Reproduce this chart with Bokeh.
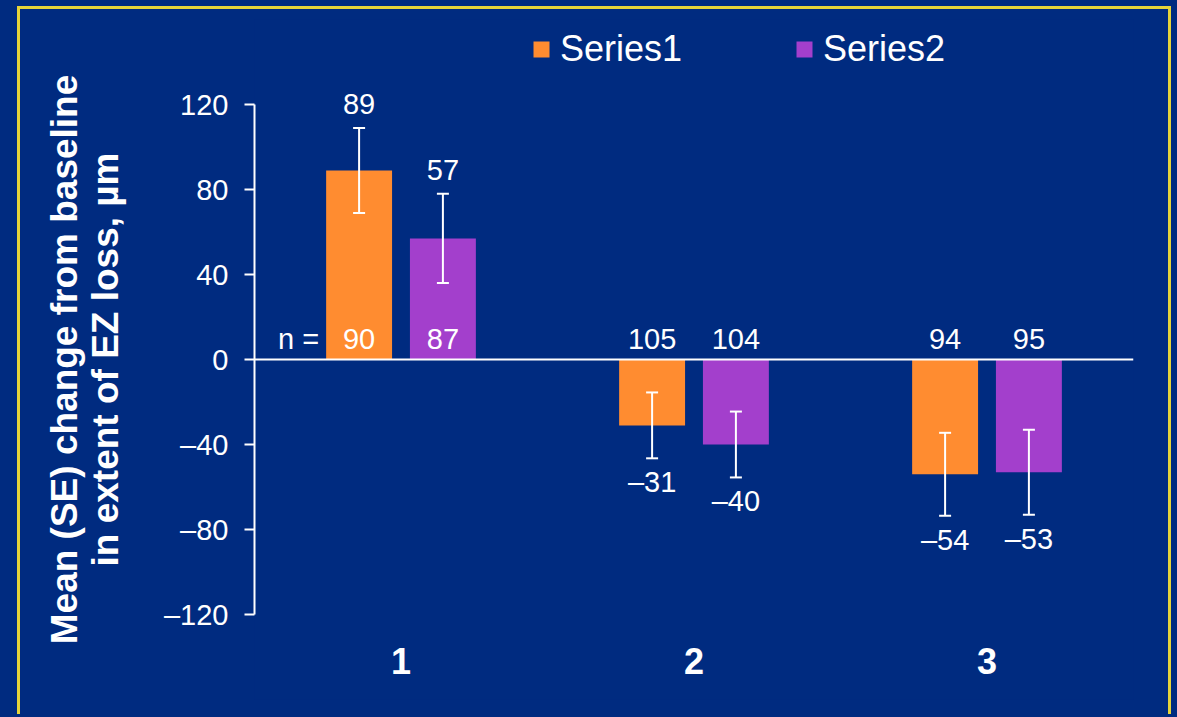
from bokeh.plotting import figure
from bokeh.layouts import column
from bokeh.models import (ColumnDataSource, FactorRange, Range1d, Span, Whisker, TeeHead,
                          Legend, LegendItem, FixedTicker)
from bokeh.transform import dodge
from bokeh.core.properties import value
from bokeh.embed import file_html
from bokeh.resources import INLINE

# ---------------- data ----------------
categories = ["1", "2", "3"]
series_names = ["Series1", "Series2"]
series1_mean = [89, -31, -54]
series2_mean = [57, -40, -53]
series1_se = [20, 15.5, 19.5]
series2_se = [21, 15.5, 20]
series1_n = [90, 105, 94]
series2_n = [87, 104, 95]
y_ticks = [-120, -80, -40, 0, 40, 80, 120]
y_title = "Mean (SE) change from baseline\nin extent of EZ loss, µm"

# ---------------- style ----------------
BG = "#002B80"
ORANGE = "#FF8C30"
PURPLE = "#A33FCC"
BORDER = "#E6D43A"
FONT = "Liberation Sans"
OFFSET = 0.143
BAR_W = 0.225
LABEL_GAP = 24


def fmt(v):
    return f"{v:.0f}".replace("-", "\u2013")


def make_source(means, ses, ns):
    sign = [1 if m >= 0 else -1 for m in means]
    return ColumnDataSource(dict(
        cat=categories,
        mean=means,
        upper=[m + s for m, s in zip(means, ses)],
        lower=[m - s for m, s in zip(means, ses)],
        label_y=[m + g * s for m, s, g in zip(means, ses, sign)],
        label_off=[-g * LABEL_GAP for g in sign],
        label=[fmt(m) for m in means],
        n=[str(n) for n in ns],
    ))


src1 = make_source(series1_mean, series1_se, series1_n)
src2 = make_source(series2_mean, series2_se, series2_n)

p = figure(x_range=FactorRange(*categories), y_range=Range1d(-160, 160),
           width=1154, height=708, output_backend="svg", toolbar_location=None,
           title=None)
p.min_border_left = 234
p.min_border_right = 41
p.min_border_top = 10
p.min_border_bottom = 18
p.background_fill_color = BG
p.border_fill_color = BG
p.outline_line_color = None
p.grid.visible = False
p.margin = (6, 0, 0, 17)
p.styles = {"border-top": f"3px solid {BORDER}", "border-left": f"3px solid {BORDER}",
            "border-right": f"3px solid {BORDER}"}

renderers = []
for src, off, color in [(src1, -OFFSET, ORANGE), (src2, OFFSET, PURPLE)]:
    r = p.vbar(x=dodge("cat", off, range=p.x_range), top="mean", bottom=0, width=BAR_W,
               source=src, fill_color=color, line_color=None)
    renderers.append(r)
    w = Whisker(source=src, base=dodge("cat", off, range=p.x_range), upper="upper", lower="lower",
                line_color="white", line_width=2, level="overlay",
                upper_head=TeeHead(size=12, line_color="white", line_width=2),
                lower_head=TeeHead(size=12, line_color="white", line_width=2))
    p.add_layout(w)
    p.text(x=dodge("cat", off, range=p.x_range), y="label_y", text="label", y_offset="label_off",
           source=src, text_font=value(FONT), text_font_size="29px", text_color="white",
           text_align="center", text_baseline="middle")
    p.text(x=dodge("cat", off, range=p.x_range), y=0, text="n", y_offset=-21,
           source=src, text_font=value(FONT), text_font_size="29px", text_color="white",
           text_align="center", text_baseline="middle")

n_src = ColumnDataSource(dict(cat=[categories[0]], t=["n ="]))
p.text(x=dodge("cat", -OFFSET, range=p.x_range), y=0, text="t", x_offset=-40, y_offset=-21,
       source=n_src, text_font=value(FONT), text_font_size="29px", text_color="white",
       text_align="right", text_baseline="middle")

p.add_layout(Span(location=0, dimension="width", line_color="white", line_width=2))

# y axis
ya = p.yaxis[0]
ya.ticker = FixedTicker(ticks=y_ticks)
ya.major_label_overrides = {t: fmt(t) for t in y_ticks}
ya.bounds = (-120, 120)
ya.axis_line_color = "white"
ya.axis_line_width = 2
ya.major_tick_line_color = "white"
ya.major_tick_line_width = 2
ya.major_tick_out = 10
ya.major_tick_in = 0
ya.minor_tick_line_color = None
ya.major_label_text_color = "white"
ya.major_label_text_font = FONT
ya.major_label_text_font_size = "29px"
ya.major_label_standoff = 16
ya.axis_label = y_title
ya.axis_label_text_color = "white"
ya.axis_label_text_font = FONT
ya.axis_label_text_font_size = "37px"
ya.axis_label_text_font_style = "bold"
ya.axis_label_text_line_height = 1.0
ya.axis_label_standoff = 35

# x axis
xa = p.xaxis[0]
xa.axis_line_color = None
xa.major_tick_line_color = None
xa.minor_tick_line_color = None
xa.major_label_text_color = "white"
xa.major_label_text_font = FONT
xa.major_label_text_font_size = "36px"
xa.major_label_text_font_style = "bold"
xa.major_label_standoff = -58

legend = Legend(items=[LegendItem(label=n, renderers=[r]) for n, r in zip(series_names, renderers)],
                orientation="horizontal", location=(277, 629),
                background_fill_alpha=0, border_line_color=None,
                label_text_color="white", label_text_font=FONT, label_text_font_size="36px",
                glyph_width=20, glyph_height=20, label_standoff=9, spacing=112,
                padding=0, margin=0)
p.add_layout(legend)

page = column(p, width=1177, height=717, styles={"background-color": BG})

html = file_html(page, INLINE)
html = html.replace("<body>", '<body style="background-color:%s;">' % BG, 1)
open("out.html", "w").write(html)
